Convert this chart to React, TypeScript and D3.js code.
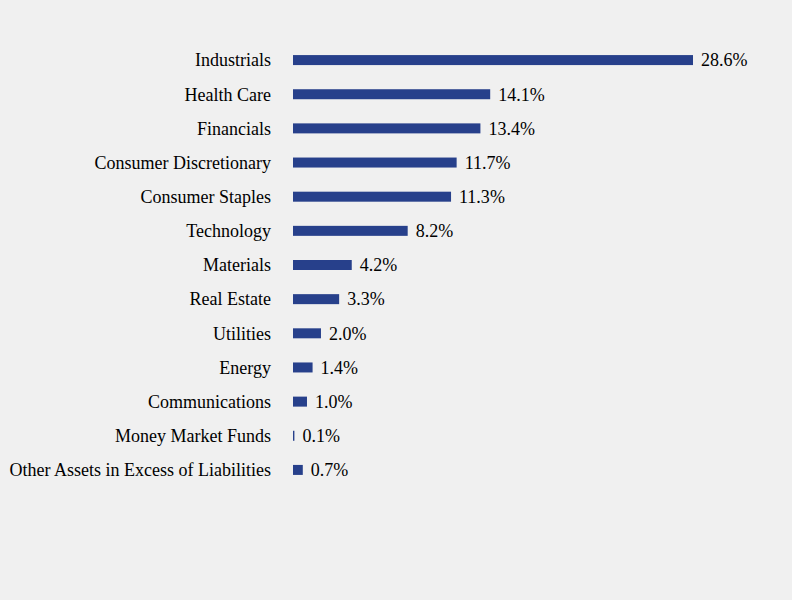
import React from "react";
import * as d3 from "d3";

const categories = [
  "Industrials",
  "Health Care",
  "Financials",
  "Consumer Discretionary",
  "Consumer Staples",
  "Technology",
  "Materials",
  "Real Estate",
  "Utilities",
  "Energy",
  "Communications",
  "Money Market Funds",
  "Other Assets in Excess of Liabilities",
];
const values = [28.6, 14.1, 13.4, 11.7, 11.3, 8.2, 4.2, 3.3, 2.0, 1.4, 1.0, 0.1, 0.7];

const W = 792;
const H = 600;

export default function App() {
  const x = d3.scaleLinear().domain([0, 28.6]).range([293, 693]);
  const y = d3.scaleBand<string>().domain(categories).range([43, 487]).paddingInner(0.7).paddingOuter(0.35);
  const font = "'Liberation Serif', 'Times New Roman', serif";
  return (
    <svg width={W} height={H} style={{ position: "absolute", left: 0, top: 0, background: "#f0f0f0" }}>
      <rect x={0} y={0} width={W} height={H} fill="#f0f0f0" />
      {categories.map((c, i) => {
        const cy = (y(c) as number) + y.bandwidth() / 2;
        return (
          <g key={c}>
            <text x={271} y={cy} dy="0.35em" textAnchor="end" fontFamily={font} fontSize={18} fill="#000">
              {c}
            </text>
            <rect x={x(0)} y={cy - 5} width={x(values[i]) - x(0)} height={10} fill="#27408b" />
            <text x={x(values[i]) + 8} y={cy} dy="0.35em" fontFamily={font} fontSize={18} fill="#000">
              {values[i].toFixed(1)}%
            </text>
          </g>
        );
      })}
    </svg>
  );
}
